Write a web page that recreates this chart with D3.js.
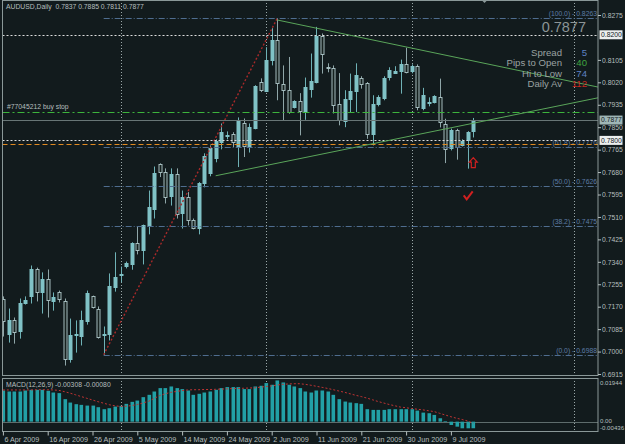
<!DOCTYPE html>
<html>
<head>
<meta charset="utf-8">
<title>AUDUSD Daily</title>
<script src="https://d3js.org/d3.v7.min.js"></script>
<style>
  body { margin: 0; background: #121b1d; }
  svg { display: block; font-family: "Liberation Sans", Arial, sans-serif; }
</style>
</head>
<body>
<svg id="chart" width="625" height="444"></svg>
<script>
// daily bars (first visible bar .. 14 Jul 2009)
const opens = [0.7201,0.7064,0.7118,0.7076,0.7186,0.7209,0.7311,0.7224,0.7273,0.7190,
  0.7224,0.7191,0.6970,0.7063,0.7057,0.7115,0.7209,0.7163,0.7061,0.7068,
  0.7246,0.7288,0.7322,0.7330,0.7411,0.7383,0.7474,0.7541,0.7709,0.7682,
  0.7588,0.7671,0.7523,0.7584,0.7497,0.7466,0.7637,0.7680,0.7731,0.7794,
  0.7817,0.7823,0.7775,0.7866,0.7777,0.7844,0.8021,0.7990,0.8103,0.8179,
  0.8015,0.7992,0.7926,0.7949,0.7911,0.7996,0.8021,0.8194,0.8077,0.8076,
  0.7936,0.7876,0.7958,0.7987,0.8038,0.8017,0.7823,0.7936,0.7964,0.8038,
  0.8055,0.8063,0.8091,0.8062,0.8081,0.7920,0.7941,0.7945,0.7964,0.7861,
  0.7769,0.7838,0.7781,0.7800,0.7837];
const highs = [0.7209,0.7163,0.7129,0.7201,0.7209,0.7326,0.7318,0.7300,0.7311,0.7224,
  0.7231,0.7201,0.7125,0.7118,0.7155,0.7231,0.7212,0.7171,0.7095,0.7296,
  0.7376,0.7322,0.7341,0.7414,0.7474,0.7481,0.7610,0.7701,0.7713,0.7694,
  0.7694,0.7694,0.7610,0.7604,0.7504,0.7642,0.7751,0.7781,0.7804,0.7864,
  0.7834,0.7831,0.7887,0.7883,0.7864,0.8009,0.8035,0.8153,0.8225,0.8263,
  0.8084,0.8116,0.7952,0.7979,0.8038,0.8129,0.8230,0.8205,0.8092,0.8084,
  0.8055,0.7990,0.8053,0.8092,0.8043,0.8021,0.7971,0.7971,0.8043,0.8077,
  0.8081,0.8106,0.8151,0.8088,0.8088,0.7999,0.7963,0.7971,0.8034,0.7882,
  0.7845,0.7844,0.7804,0.7835,0.7885];
const lows = [0.7057,0.7034,0.7030,0.7049,0.7178,0.7182,0.7190,0.7144,0.7129,0.7155,
  0.7186,0.6947,0.6958,0.6996,0.7023,0.7102,0.7163,0.7049,0.6988,0.7042,
  0.7227,0.7262,0.7315,0.7310,0.7368,0.7330,0.7444,0.7504,0.7661,0.7561,
  0.7553,0.7504,0.7466,0.7478,0.7463,0.7444,0.7622,0.7664,0.7717,0.7766,
  0.7804,0.7775,0.7699,0.7737,0.7754,0.7842,0.7983,0.7983,0.8084,0.7952,
  0.7876,0.7901,0.7921,0.7819,0.7878,0.7962,0.8016,0.8053,0.8058,0.7902,
  0.7857,0.7850,0.7907,0.7907,0.7996,0.7806,0.7781,0.7929,0.7952,0.8027,
  0.8052,0.7977,0.8054,0.8054,0.7914,0.7914,0.7929,0.7940,0.7849,0.7714,
  0.7762,0.7727,0.7777,0.7693,0.7811];
const closes = [0.7118,0.7118,0.7072,0.7183,0.7197,0.7311,0.7224,0.7273,0.7193,0.7205,
  0.7197,0.6973,0.7061,0.7066,0.7118,0.7221,0.7167,0.7057,0.7066,0.7250,
  0.7284,0.7292,0.7334,0.7411,0.7383,0.7478,0.7547,0.7676,0.7680,0.7588,
  0.7671,0.7519,0.7584,0.7497,0.7466,0.7637,0.7739,0.7773,0.7797,0.7831,
  0.7821,0.7794,0.7873,0.7777,0.7850,0.8005,0.7990,0.8106,0.8179,0.8015,
  0.7992,0.7907,0.7949,0.7911,0.8002,0.8025,0.8194,0.8126,0.8073,0.7936,
  0.7876,0.7958,0.7987,0.8046,0.8017,0.7825,0.7936,0.7964,0.8038,0.8065,
  0.8063,0.8091,0.8059,0.8081,0.7924,0.7971,0.7945,0.7967,0.7868,0.7765,
  0.7838,0.7775,0.7797,0.7831,0.7877];

// MACD(12,26,9): main as histogram, signal as dotted line
const macdMain = [0.01454,0.01407,0.01407,0.01407,0.01454,0.01487,0.01487,0.01487,0.0144,0.0136,
  0.01332,0.0105,0.00891,0.00816,0.00783,0.0075,0.0075,0.00675,0.00582,0.00628,
  0.00704,0.00736,0.0083,0.00924,0.00985,0.01144,0.01252,0.01407,0.01566,0.01566,
  0.01642,0.01566,0.0152,0.01454,0.01252,0.01299,0.0136,0.01407,0.01487,0.01566,
  0.01613,0.01613,0.01613,0.0152,0.0152,0.01642,0.01674,0.01801,0.01721,0.01923,
  0.01829,0.01721,0.01642,0.01566,0.01407,0.0136,0.01454,0.01454,0.01407,0.01252,
  0.0105,0.00938,0.00891,0.00863,0.0083,0.00582,0.00549,0.00549,0.00549,0.00582,
  0.00582,0.00582,0.00582,0.00582,0.00516,0.00422,0.00394,0.00314,0.00159,0.0003,
  -0.00155,-0.00234,-0.0031,-0.0031,-0.00308];
const macdSignal = [0.0148,0.0148,0.0148,0.0148,0.0148,0.0148,0.0149,0.0149,0.0149,0.0148,
  0.0146,0.0140,0.0133,0.0125,0.0117,0.0109,0.0101,0.0093,0.0086,0.0079,
  0.0074,0.0071,0.0072,0.0075,0.0080,0.0087,0.0095,0.0108,0.0122,0.0130,
  0.0137,0.0141,0.0145,0.0148,0.0149,0.0149,0.0150,0.0150,0.0151,0.0152,
  0.0153,0.0154,0.0155,0.0156,0.0157,0.0158,0.0161,0.0164,0.0167,0.0171,
  0.0174,0.0176,0.0177,0.0177,0.0174,0.0170,0.0165,0.0160,0.0155,0.0149,
  0.0143,0.0137,0.0130,0.0123,0.0117,0.0110,0.0102,0.0094,0.0087,0.0080,
  0.0074,0.0068,0.0065,0.0061,0.0058,0.0055,0.0051,0.0047,0.0039,0.0031,
  0.0023,0.0016,0.0010,0.0003,-0.0008];

const dateTickBars = [0, 8, 16, 24, 32, 40, 48, 56, 64, 72, 80];
const dateLabels = ["6 Apr 2009","16 Apr 2009","26 Apr 2009","5 May 2009","14 May 2009",
  "24 May 2009","2 Jun 2009","11 Jun 2009","21 Jun 2009","30 Jun 2009","9 Jul 2009"];
const monthGridBars = [21, 47, 73, 102];
// 0.8190 sits under the 0.8200 line label, so it is not shown
const priceTicks = [0.6915,0.7000,0.7085,0.7170,0.7255,0.7340,0.7425,0.7510,0.7595,
  0.7680,0.7765,0.7850,0.7935,0.8020,0.8105,0.8275];
const macdTicks = [0.01944, 0, -0.00436];
const macdTickLabels = ["0.01944", "0.00", "-0.00436"];

// chart objects
const fibLevels = ["100.0", "61.8", "50.0", "38.2", "0.0"];
const fibPrices = [0.8263, 0.7776, 0.7626, 0.7475, 0.6988];
const fibAnchors = [[18, 0.6988], [49, 0.8263]];
const upperTrend = [[49, 0.8256], [72, 0.8154]];
const lowerTrend = [[38, 0.7666], [84, 0.7865]];
const whiteLines = [0.8200, 0.7800];
const orangeLine = 0.7787;
const buyStop = 0.7908;
const bid = 0.7877;
const arrowMark = [84, 0.7735];
const checkMark = [83, 0.7592];
const shiftBar = 86;

const infoLabels = ["Spread", "Pips to Open", "Hi to Low", "Daily Av"];
const infoValues = ["5", "40", "74", "112"];
const infoColors = ["#5f82c4", "#3fa43f", "#5f82c4", "#c8281e"];

const bars = opens.map((o, i) => ({ i, o, h: highs[i], l: lows[i], c: closes[i] }));

const svg = d3.select('#chart');
const right = 598, left = 2.5;
const mainBottom = 375.5, macdTop = 378.5, macdBottom = 431.5;
const frame = '#8a9898', txt = '#b6bfbf';

const x = d3.scaleLinear().domain([0, 84]).range([2.9, 473.3]);
const y = d3.scaleLinear().domain([0.6915, 0.8275]).range([374, 15]);
const ym = d3.scaleLinear().domain([-0.00436, 0.01944]).range([431, 380]);
const px = v => Math.round(v) + 0.5;

const defs = svg.append('defs');
defs.append('clipPath').attr('id', 'clipMain').append('rect')
  .attr('x', left).attr('y', 0).attr('width', right - left).attr('height', mainBottom);
defs.append('clipPath').attr('id', 'clipMacd').append('rect')
  .attr('x', left).attr('y', macdTop).attr('width', right - left).attr('height', macdBottom - macdTop);

svg.append('rect').attr('width', 625).attr('height', 444).attr('fill', '#121b1d');

// month grid (both windows)
svg.append('g').selectAll('line').data(monthGridBars).join('line')
  .attr('x1', d => px(x(d))).attr('x2', d => px(x(d)))
  .attr('y1', 0).attr('y2', macdBottom)
  .attr('stroke', '#9aa8a8').attr('stroke-dasharray', '1,2');

const main = svg.append('g').attr('clip-path', 'url(#clipMain)');

// candles
main.selectAll('line.wick').data(bars).join('line').attr('class', 'wick')
  .attr('x1', d => px(x(d.i))).attr('x2', d => px(x(d.i)))
  .attr('y1', d => y(d.h)).attr('y2', d => y(d.l))
  .attr('stroke', d => d.c >= d.o ? '#6fb2b6' : '#8fa6a8');
main.selectAll('rect.body').data(bars).join('rect').attr('class', 'body')
  .attr('x', d => px(x(d.i)) - 1.5).attr('width', 3)
  .attr('y', d => Math.round(y(Math.max(d.o, d.c))) + 0.5)
  .attr('height', d => Math.max(1, Math.round(Math.abs(y(d.o) - y(d.c)))))
  .attr('fill', d => d.c >= d.o ? '#80c2c6' : '#16211f')
  .attr('stroke', d => d.c >= d.o ? '#80c2c6' : '#a4bcbe');

// horizontal objects
const hline = (p, color, dash) => main.append('line')
  .attr('x1', left).attr('x2', right).attr('y1', px(y(p))).attr('y2', px(y(p)))
  .attr('stroke', color).attr('stroke-dasharray', dash);

// fibonacci
main.selectAll('line.fib').data(fibPrices).join('line').attr('class', 'fib')
  .attr('x1', x(fibAnchors[0][0])).attr('x2', right)
  .attr('y1', d => px(y(d))).attr('y2', d => px(y(d)))
  .attr('stroke', '#4f6d8f').attr('stroke-dasharray', '6,2,1,2');
main.selectAll('text.fib').data(fibPrices).join('text').attr('class', 'fib')
  .attr('x', right - 1).attr('y', d => y(d) - 2)
  .attr('text-anchor', 'end').attr('font-size', 6.8).attr('fill', '#5d7ca6')
  .text((d, i) => `(${fibLevels[i]}) - ${d.toFixed(4)}`);
main.append('line')
  .attr('x1', x(fibAnchors[0][0])).attr('y1', y(fibAnchors[0][1]))
  .attr('x2', x(fibAnchors[1][0])).attr('y2', y(fibAnchors[1][1]))
  .attr('stroke', '#a82a2a').attr('stroke-width', 1.4).attr('stroke-dasharray', '2,2');

hline(bid, '#687676', null);
hline(buyStop, '#3cb43c', '7,3,2,3');
whiteLines.forEach(p => hline(p, '#dcdcdc', '2,2'));
hline(orangeLine, '#e08a22', '5,3');

// trend lines, extended to the right edge
const ray = (pts, color) => {
  const [[i1, p1], [i2, p2]] = pts;
  const iEnd = x.invert(right);
  const pEnd = p1 + (p2 - p1) * (iEnd - i1) / (i2 - i1);
  main.append('line')
    .attr('x1', x(i1)).attr('y1', y(p1)).attr('x2', right).attr('y2', y(pEnd))
    .attr('stroke', color);
};
ray(upperTrend, '#5aa55a');
ray(lowerTrend, '#5aa55a');

// arrow and check mark
const ax = x(arrowMark[0]), ay = y(arrowMark[1]);
main.append('path')
  .attr('d', `M${ax},${ay} l4,4.5 h-2 v5.5 h-4 v-5.5 h-2 Z`)
  .attr('fill', 'none').attr('stroke', '#d02020').attr('stroke-width', 1.2);
const cx = x(checkMark[0]), cy = y(checkMark[1]);
main.append('path')
  .attr('d', `M${cx - 4},${cy} L${cx - 1},${cy + 4} L${cx + 5},${cy - 4}`)
  .attr('fill', 'none').attr('stroke', '#d02020').attr('stroke-width', 2);

// texts in the main window
svg.append('text').attr('x', 6).attr('y', 9).attr('font-size', 6.8).attr('fill', txt)
  .style('white-space', 'pre').text('AUDUSD,Daily  0.7837 0.7885 0.7811 0.7877');
svg.append('text').attr('x', 7).attr('y', y(buyStop) - 2.5).attr('font-size', 6.8).attr('fill', txt)
  .text('#77045212 buy stop');
svg.append('text').attr('x', 586).attr('y', 31.5).attr('text-anchor', 'end')
  .attr('font-size', 14.5).attr('fill', '#8b9496').text(bid.toFixed(4));
const info = svg.append('g').attr('font-size', 9.6);
info.selectAll('text.lab').data(infoLabels).join('text').attr('class', 'lab')
  .attr('x', 562).attr('y', (d, i) => 55.7 + i * 10.4).attr('text-anchor', 'end')
  .attr('fill', '#9aa2a2').text(d => d);
info.selectAll('text.val').data(infoValues).join('text').attr('class', 'val')
  .attr('x', 587).attr('y', (d, i) => 55.7 + i * 10.4).attr('text-anchor', 'end')
  .attr('fill', (d, i) => infoColors[i]).text(d => d);

// chart shift marker
svg.append('path').attr('d', `M${x(shiftBar) - 3},0 h6 l-3,3 Z`).attr('fill', '#8a9898');

// MACD window
const macd = svg.append('g').attr('clip-path', 'url(#clipMacd)');
macd.append('line').attr('x1', left).attr('x2', right).attr('y1', px(ym(0))).attr('y2', px(ym(0)))
  .attr('stroke', '#5e6c6c');
macd.selectAll('rect').data(macdMain).join('rect')
  .attr('x', (d, i) => Math.round(x(i)) - 1.5).attr('width', 3.6)
  .attr('y', d => Math.min(ym(d), ym(0))).attr('height', d => Math.abs(ym(d) - ym(0)))
  .attr('fill', '#22a0a6');
macd.append('path').datum(macdSignal)
  .attr('d', d3.line().x((d, i) => x(i)).y(d => ym(d)))
  .attr('fill', 'none').attr('stroke', '#c03434').attr('stroke-dasharray', '2,2');
svg.append('text').attr('x', 6).attr('y', 387).attr('font-size', 6.8).attr('fill', txt)
  .text('MACD(12,26,9) -0.00308 -0.00080');

// frames
svg.append('rect').attr('x', left).attr('y', 0.5).attr('width', right - left).attr('height', mainBottom - 0.5)
  .attr('fill', 'none').attr('stroke', frame);
svg.append('rect').attr('x', left).attr('y', macdTop).attr('width', right - left).attr('height', macdBottom - macdTop)
  .attr('fill', 'none').attr('stroke', frame);

// price axis
const yAxis = d3.axisRight(y).tickValues(priceTicks).tickFormat(d3.format('.4f')).tickSize(3).tickPadding(1);
svg.append('g').attr('transform', `translate(${right},0)`).call(yAxis)
  .attr('font-family', null).attr('font-size', 6.8)
  .call(g => g.select('.domain').remove())
  .call(g => g.selectAll('line').attr('stroke', txt))
  .call(g => g.selectAll('text').attr('fill', txt));

// highlighted price labels
const boxes = [
  { p: whiteLines[0], bg: '#ecefef', fg: '#10181a' },
  { p: whiteLines[1], bg: '#ecefef', fg: '#10181a' },
  { p: bid, bg: '#9fb6b6', fg: '#10181a' }
];
const bx = svg.append('g').attr('font-size', 6.8);
bx.selectAll('rect').data(boxes).join('rect')
  .attr('x', right + 1.5).attr('y', d => y(d.p) - 4.5).attr('width', 23).attr('height', 9)
  .attr('fill', d => d.bg);
bx.selectAll('text').data(boxes).join('text')
  .attr('x', right + 3).attr('y', d => y(d.p) + 2.4).attr('fill', d => d.fg)
  .text(d => d.p.toFixed(4));

// macd scale labels
svg.append('g').selectAll('text').data(macdTicks).join('text')
  .attr('x', right + 2).attr('y', (d, i) => ym(d) + [5, 1.2, -1.2][i])
  .attr('font-size', 6.1).attr('fill', txt).text((d, i) => macdTickLabels[i]);

// date axis
const xAxis = d3.axisBottom(x).tickValues(dateTickBars).tickFormat((d, i) => dateLabels[i])
  .tickSize(4).tickPadding(1);
svg.append('g').attr('transform', `translate(0,${macdBottom})`).call(xAxis)
  .attr('font-family', null).attr('font-size', 7.2)
  .call(g => g.select('.domain').remove())
  .call(g => g.selectAll('line').attr('stroke', txt))
  .call(g => g.selectAll('text').attr('fill', txt).attr('text-anchor', 'start').attr('dx', 1));
</script>
</body>
</html>
